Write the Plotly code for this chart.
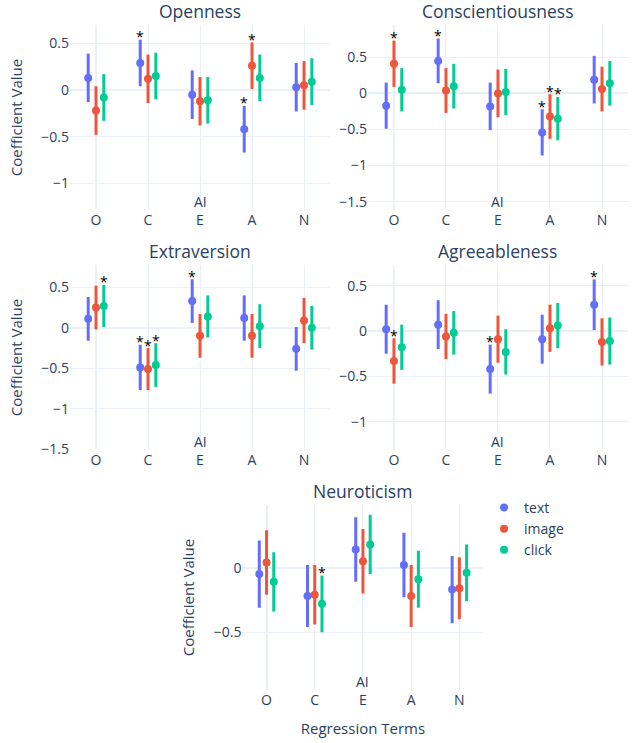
import plotly.graph_objects as go

terms = ["O", "C", "E", "A", "N"]
series = ["text", "image", "click"]
colors = ["#636efa", "#EF553B", "#00cc96"]
traits = ["Openness", "Conscientiousness", "Extraversion", "Agreeableness", "Neuroticism"]

# coefficient estimates per series (text, image, click) for each term O,C,E,A,N
openness_coef = [[0.13, 0.29, -0.05, -0.42, 0.03],
                 [-0.22, 0.12, -0.12, 0.26, 0.05],
                 [-0.08, 0.15, -0.11, 0.13, 0.09]]
openness_err = [[0.26, 0.25, 0.26, 0.25, 0.26],
                [0.26, 0.26, 0.26, 0.25, 0.26],
                [0.25, 0.25, 0.25, 0.25, 0.25]]
openness_sig = [[0, 1, 0, 1, 0], [0, 0, 0, 1, 0], [0, 0, 0, 0, 0]]

conscientiousness_coef = [[-0.17, 0.45, -0.18, -0.54, 0.19],
                          [0.41, 0.04, 0.00, -0.32, 0.06],
                          [0.05, 0.10, 0.02, -0.35, 0.14]]
conscientiousness_err = [[0.32, 0.31, 0.33, 0.32, 0.33],
                         [0.32, 0.31, 0.33, 0.31, 0.31],
                         [0.30, 0.31, 0.32, 0.30, 0.31]]
conscientiousness_sig = [[0, 1, 0, 1, 0], [1, 0, 0, 1, 0], [0, 0, 0, 1, 0]]

extraversion_coef = [[0.11, -0.49, 0.33, 0.12, -0.26],
                     [0.25, -0.51, -0.10, -0.10, 0.09],
                     [0.27, -0.46, 0.14, 0.02, 0.00]]
extraversion_err = [[0.27, 0.28, 0.27, 0.28, 0.27],
                    [0.27, 0.26, 0.27, 0.27, 0.28],
                    [0.26, 0.27, 0.26, 0.27, 0.27]]
extraversion_sig = [[0, 1, 1, 0, 0], [0, 1, 0, 0, 0], [1, 1, 0, 0, 0]]

agreeableness_coef = [[0.02, 0.07, -0.42, -0.09, 0.29],
                      [-0.33, -0.06, -0.09, 0.03, -0.12],
                      [-0.18, -0.02, -0.23, 0.06, -0.11]]
agreeableness_err = [[0.27, 0.27, 0.27, 0.27, 0.28],
                     [0.25, 0.25, 0.26, 0.26, 0.26],
                     [0.25, 0.24, 0.25, 0.25, 0.26]]
agreeableness_sig = [[0, 0, 1, 0, 1], [1, 0, 0, 0, 0], [0, 0, 0, 0, 0]]

neuroticism_coef = [[-0.05, -0.22, 0.14, 0.02, -0.17],
                    [0.04, -0.21, 0.05, -0.22, -0.16],
                    [-0.11, -0.28, 0.18, -0.09, -0.04]]
neuroticism_err = [[0.26, 0.24, 0.25, 0.25, 0.26],
                   [0.25, 0.23, 0.25, 0.24, 0.24],
                   [0.23, 0.22, 0.23, 0.22, 0.22]]
neuroticism_sig = [[0, 0, 0, 0, 0], [0, 0, 0, 0, 0], [0, 1, 0, 0, 0]]

y_ranges = [[-1.286, 0.697], [-1.615, 0.947], [-1.509, 0.775], [-1.312, 0.728], [-0.947, 0.485]]

panels = [
    (openness_coef, openness_err, openness_sig),
    (conscientiousness_coef, conscientiousness_err, conscientiousness_sig),
    (extraversion_coef, extraversion_err, extraversion_sig),
    (agreeableness_coef, agreeableness_err, agreeableness_sig),
    (neuroticism_coef, neuroticism_err, neuroticism_sig),
]

offsets = [-0.15, 0.0, 0.15]
x_domains = [[0, 0.466], [0.534, 1], [0, 0.466], [0.534, 1], [0.309, 0.741]]
y_domains = [[0.7218, 1.0], [0.7218, 1.0], [0.3609, 0.6391], [0.3609, 0.6391], [0.0, 0.2782]]

fig = go.Figure()
annotations = []
for p, (coef, err, sig) in enumerate(panels):
    sfx = "" if p == 0 else str(p + 1)
    for s in range(3):
        xs = [i + offsets[s] for i in range(len(terms))]
        fig.add_trace(go.Scatter(
            x=xs, y=coef[s], mode="markers", name=series[s],
            marker=dict(color=colors[s], size=8),
            error_y=dict(type="data", array=err[s], thickness=3, width=0, color=colors[s]),
            showlegend=(p == 0),
            xaxis="x" + sfx, yaxis="y" + sfx,
        ))
        for i in range(len(terms)):
            if sig[s][i]:
                annotations.append(dict(
                    x=xs[i], y=coef[s][i] + err[s][i], xref="x" + sfx, yref="y" + sfx,
                    text="*", showarrow=False, xanchor="center", yanchor="middle",
                    yshift=3, font=dict(color="black", size=14),
                ))

layout = dict(
    template="plotly_white",
    width=633, height=743,
    margin=dict(l=70, r=5, t=25, b=53),
    font=dict(family="Open Sans", size=14, color="#2a3f5f"),
    legend=dict(x=0.742, y=0.298, xanchor="left", yanchor="top", font=dict(size=14)),
)
for p in range(5):
    sfx = "" if p == 0 else str(p + 1)
    layout["xaxis" + sfx] = dict(
        domain=x_domains[p], anchor="y" + sfx, range=[-0.5, len(terms) - 0.5],
        tickmode="array", tickvals=list(range(len(terms))), ticktext=terms,
        title=dict(text="Regression Terms", font=dict(size=15)) if p == 4 else None,
    )
    layout["yaxis" + sfx] = dict(
        domain=y_domains[p], anchor="x" + sfx, range=y_ranges[p], dtick=0.5,
        title=dict(text="Coefficient Value", font=dict(size=15)) if p in (0, 2, 4) else None,
    )
    annotations.append(dict(
        text=traits[p], xref="paper", yref="paper",
        x=sum(x_domains[p]) / 2, y=y_domains[p][1],
        xanchor="center", yanchor="bottom", showarrow=False, font=dict(size=17.5),
    ))
    annotations.append(dict(
        text="AI", xref="x" + sfx, yref="y" + sfx + " domain",
        x=2, y=0, xanchor="center", yanchor="bottom", yshift=-3, showarrow=False,
    ))
layout["annotations"] = annotations

fig.update_layout(**layout)
fig.write_html("out.html")
